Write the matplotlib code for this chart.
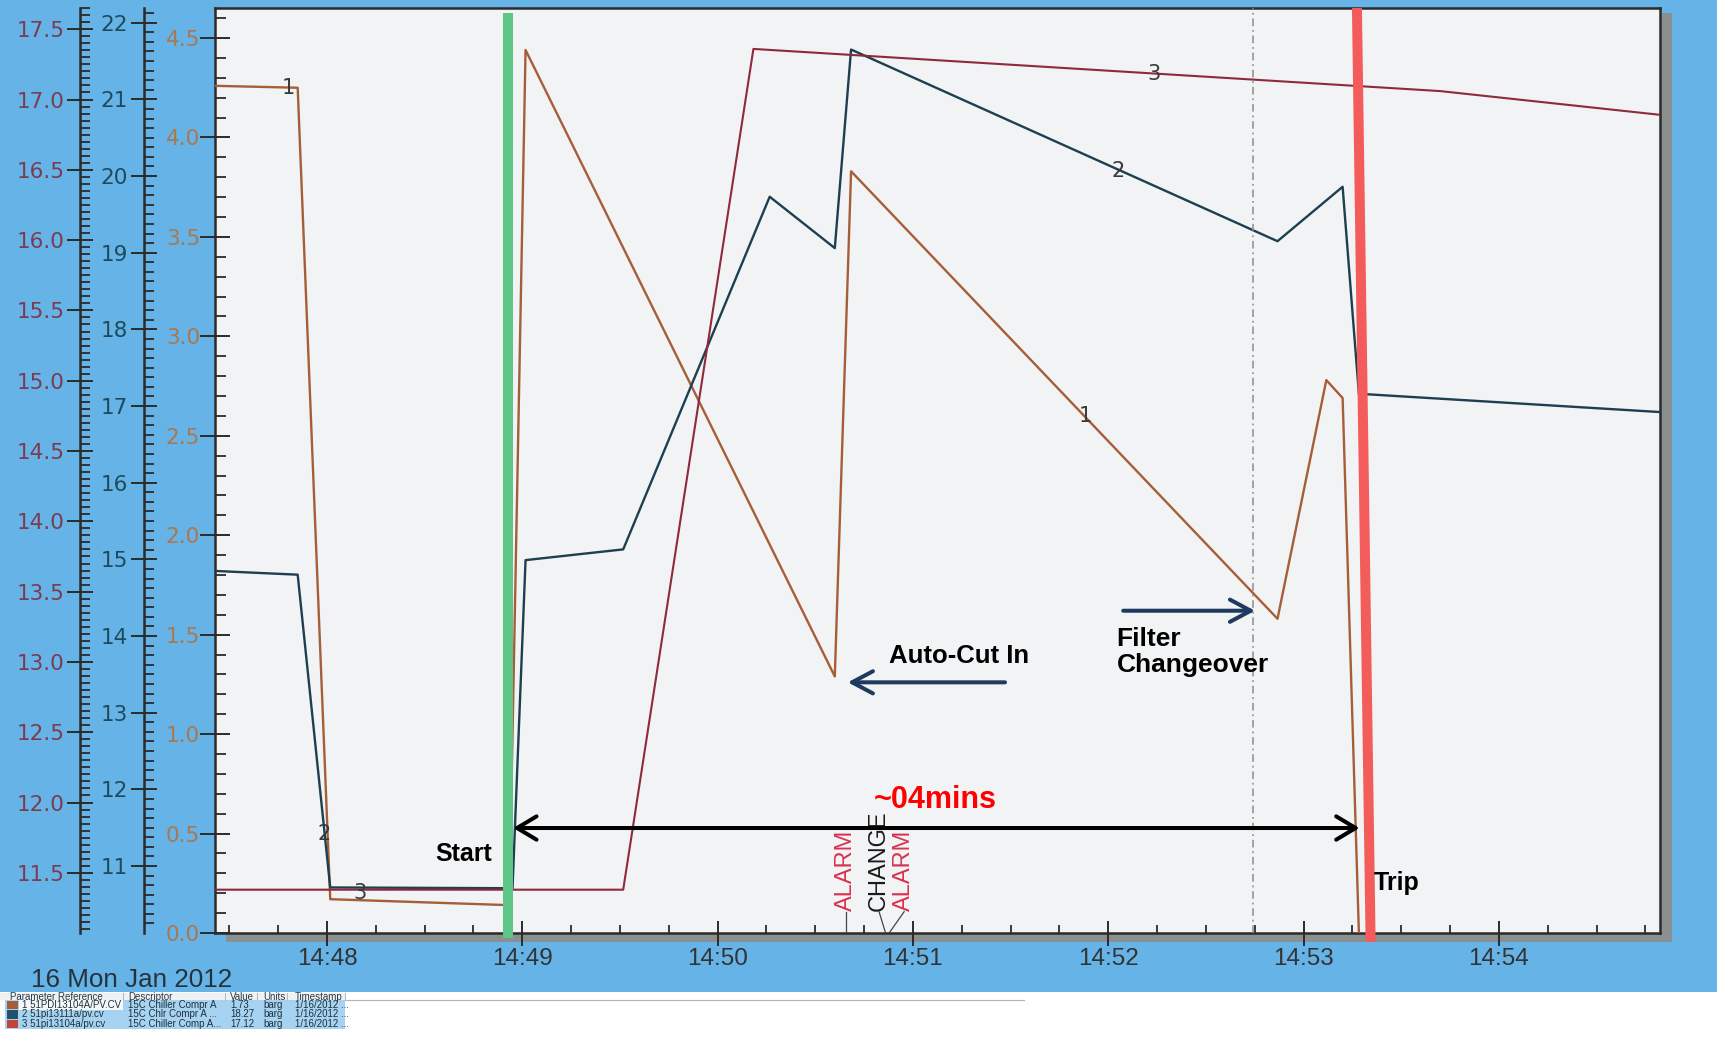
import matplotlib
matplotlib.use('Agg')
import matplotlib.pyplot as plt
import matplotlib.dates as mdates
import matplotlib.patches as mpatches
from matplotlib.ticker import MultipleLocator, FormatStrFormatter
import pandas as pd

DAY = '2012-01-16 '

# ---- data ----
# 1: 51PDI13104A/PV.CV  (0 - 4.5 barg axis)
s1_time = ['14:47:25', '14:47:51', '14:48:01', '14:48:56', '14:49:01', '14:50:36',
           '14:50:41', '14:52:52', '14:53:07', '14:53:12', '14:53:17']
s1_val = [4.26, 4.25, 0.17, 0.14, 4.44, 1.29, 3.83, 1.58, 2.78, 2.69, 0.0]

# 2: 51pi13111a/pv.cv  (11 - 22 barg axis)
s2_time = ['14:47:25', '14:47:51', '14:48:01', '14:48:57', '14:49:01', '14:49:31',
           '14:50:16', '14:50:36', '14:50:41', '14:52:52', '14:53:12', '14:53:17', '14:54:50']
s2_val = [14.85, 14.80, 10.72, 10.71, 14.99, 15.13, 19.73, 19.06, 21.65, 19.15, 19.86, 17.16, 16.92]

# 3: 51pi13104a/pv.cv  (11.5 - 17.5 barg axis)
s3_time = ['14:47:25', '14:49:31', '14:50:11', '14:53:42', '14:54:50']
s3_val = [11.38, 11.38, 17.36, 17.06, 16.89]

x_range = ['14:47:25.6', '14:54:49.5']
start_time = '14:48:55.5'
trip_time = ['14:53:16.4', '14:53:20.6']     # slanted marker top / bottom
filter_time = '14:52:44.4'
span_time = ['14:48:57.2', '14:53:17.2']
span_label = '~04mins'

# series number labels: (text, time, value, axis index)
num_labels = [('1', '14:47:48', 4.25, 1), ('2', '14:47:59', 11.42, 2), ('3', '14:48:10', 11.36, 3),
              ('3', '14:52:14', 17.18, 3), ('2', '14:52:03', 20.07, 2), ('1', '14:51:53', 2.60, 1)]

# events on the time axis: (text, text time, event time, colour)
events = [('ALARM', '14:50:39.3', '14:50:39.3', '#d8324f'),
          ('CHANGE', '14:50:49.6', '14:50:51.6', '#1a1a1a'),
          ('ALARM', '14:50:57.3', '14:50:52.7', '#d8324f')]

table_header = ['Parameter Reference', 'Descriptor', 'Value', 'Units', 'Timestamp']
table_rows = [['1 51PDI13104A/PV.CV', '15C Chiller Compr A', '1.73', 'barg', '1/16/2012 ...'],
              ['2 51pi13111a/pv.cv', '15C Chlr Compr A ...', '18.27', 'barg', '1/16/2012 ...'],
              ['3 51pi13104a/pv.cv', '15C Chiller Comp A...', '17.12', 'barg', '1/16/2012 ...']]
date_label = '16 Mon Jan 2012'

C1, C2, C3 = '#a65e38', '#1d3f4f', '#8e2a3c'
L1, L2, L3 = '#a97850', '#1f4a5c', '#7b3c50'
DARK = '#2b2b2b'

def T(s):
    return mdates.date2num(pd.Timestamp(DAY + s))

def TT(lst):
    return pd.to_datetime([DAY + s for s in lst])

W, H = 1717, 1039
fig = plt.figure(figsize=(W / 100, H / 100), dpi=100)
fig.patch.set_facecolor('white')

def fx(px):
    return px / W

def fy(py):
    return 1 - py / H

# blue background and plot shadow
fig.add_artist(mpatches.Rectangle((0, fy(992)), 1, 1 - fy(992), transform=fig.transFigure,
                                  facecolor='#66b3e7', edgecolor='none', zorder=-10))
fig.add_artist(mpatches.Rectangle((fx(1660), fy(942)), fx(12), (942 - 13) / H, transform=fig.transFigure,
                                  facecolor='#8a8f8f', edgecolor='none', zorder=-5))
fig.add_artist(mpatches.Rectangle((fx(226), fy(942)), fx(1672 - 226), 9 / H, transform=fig.transFigure,
                                  facecolor='#8a8f8f', edgecolor='none', zorder=-5))

ax = fig.add_axes([fx(215), fy(933), fx(1660 - 215), (933 - 8) / H])
ax.set_facecolor('#f1f3f5')
ax2 = ax.twinx()
ax3 = ax.twinx()

for a, pos in ((ax2, -71 / 1445), (ax3, -135 / 1445)):
    for s in ('right', 'top', 'bottom'):
        a.spines[s].set_visible(False)
    a.spines['left'].set_visible(True)
    a.spines['left'].set_position(('axes', pos))
    a.spines['left'].set_linewidth(1.8)
    a.spines['left'].set_color(DARK)
    a.yaxis.set_ticks_position('left')
    a.yaxis.set_label_position('left')
    a.patch.set_visible(False)

for s in ax.spines.values():
    s.set_linewidth(1.8)
    s.set_color(DARK)

# series
ax.plot(TT(s1_time), s1_val, color=C1, lw=1.7, zorder=3)
ax2.plot(TT(s2_time), s2_val, color=C2, lw=1.7, zorder=3)
ax3.plot(TT(s3_time), s3_val, color=C3, lw=1.5, zorder=3)

ax.set_xlim(T(x_range[0]), T(x_range[1]))
ax.xaxis.set_major_locator(mdates.MinuteLocator())
ax.xaxis.set_major_formatter(mdates.DateFormatter('%H:%M'))
ax.xaxis.set_minor_locator(mdates.SecondLocator(bysecond=[0, 15, 30, 45]))

ax.set_ylim(0, 4.651)
ax.yaxis.set_major_locator(MultipleLocator(0.5))
ax.yaxis.set_minor_locator(MultipleLocator(0.1))
ax.yaxis.set_major_formatter(FormatStrFormatter('%.1f'))

ax2.set_ylim(10.126, 22.192)
ax2.yaxis.set_major_locator(MultipleLocator(1))
ax2.yaxis.set_minor_locator(MultipleLocator(0.125))
ax2.yaxis.set_major_formatter(FormatStrFormatter('%d'))

ax3.set_ylim(11.072, 17.651)
ax3.yaxis.set_major_locator(MultipleLocator(0.5))
ax3.yaxis.set_minor_locator(MultipleLocator(0.05))
ax3.yaxis.set_major_formatter(FormatStrFormatter('%.1f'))

ax.tick_params(axis='x', which='major', direction='inout', length=18, width=1.4, color=DARK,
               labelsize=17.5, pad=1.8, labelcolor='#333333', labelfontfamily='Liberation Sans')
ax.tick_params(axis='x', which='minor', direction='in', length=5.8, width=1.3, color=DARK)
ax.tick_params(axis='y', which='major', direction='inout', length=20.9, width=1.4, color=DARK,
               labelsize=15.5, pad=0.3, labelcolor=L1)
ax.tick_params(axis='y', which='minor', direction='in', length=8, width=1.3, color=DARK)
ax2.tick_params(axis='y', which='major', direction='inout', length=19.2, width=1.4, color=DARK,
                labelsize=15.5, pad=2.0, labelcolor=L2)
ax2.tick_params(axis='y', which='minor', direction='in', length=7.5, width=1.3, color=DARK)
ax3.tick_params(axis='y', which='major', direction='inout', length=19.4, width=1.4, color=DARK,
                labelsize=15.5, pad=1.5, labelcolor=L3)
ax3.tick_params(axis='y', which='minor', direction='in', length=7, width=1.3, color=DARK)

# series number labels
axes_by_idx = {1: ax, 2: ax2, 3: ax3}
for txt, t, v, idx in num_labels:
    axes_by_idx[idx].text(T(t), v, txt, fontsize=15, color='#3a3a3a', ha='center', va='center', zorder=5)

xt = ax3.get_xaxis_transform()

# filter changeover dotted marker
ax3.plot([T(filter_time)] * 2, [0, 1], transform=xt, color='#8c8c8c', lw=1.1,
         ls=(0, (5, 2.5, 1.2, 2.5)), zorder=2)
# start / trip markers
ax3.plot([T(start_time)] * 2, [0.9943, -0.0055], transform=xt, color='#5dc687', lw=7.2,
         solid_capstyle='butt', clip_on=False, zorder=10)
ax3.plot([T(trip_time[0]), T(trip_time[1])], [1.0, -0.0097], transform=xt, color='#f45c5c', lw=7.2,
         solid_capstyle='butt', clip_on=False, zorder=10)

# span arrow
ax3.add_patch(mpatches.FancyArrowPatch((T(span_time[0]), 0.1135), (T(span_time[1]), 0.1135), transform=xt,
                                       arrowstyle=mpatches.ArrowStyle('<->', head_length=0.7, head_width=0.42),
                                       mutation_scale=20, lw=2.9, color='black', zorder=11,
                                       shrinkA=0, shrinkB=0))
ax3.text(0.4983, 0.1438, span_label, transform=ax3.transAxes, ha='center', va='center',
         fontsize=22, fontweight='bold', color='#ff0000', family='Liberation Sans', zorder=11)

# auto-cut in arrow + filter changeover arrow
NAVY = '#1e3a5f'
ax3.add_patch(mpatches.FancyArrowPatch((T('14:51:28.3'), 0.271), (T('14:50:40'), 0.271), transform=xt,
                                       arrowstyle=mpatches.ArrowStyle('->', head_length=0.75, head_width=0.4),
                                       mutation_scale=20, lw=2.9, color=NAVY, zorder=11, shrinkA=0, shrinkB=0))
ax3.add_patch(mpatches.FancyArrowPatch((T('14:52:04.6'), 0.3484), (T('14:52:45.1'), 0.3484), transform=xt,
                                       arrowstyle=mpatches.ArrowStyle('->', head_length=0.75, head_width=0.4),
                                       mutation_scale=20, lw=2.9, color=NAVY, zorder=11, shrinkA=0, shrinkB=0))

bold = dict(fontweight='bold', color='black', family='Liberation Sans', zorder=11)
ax3.text(0.1723, 0.0854, 'Start', transform=ax3.transAxes, ha='center', va='center', fontsize=18, **bold)
ax3.text(0.8021, 0.054, 'Trip', transform=ax3.transAxes, ha='left', va='center', fontsize=18, **bold)
ax3.text(0.5149, 0.2995, 'Auto-Cut In', transform=ax3.transAxes, ha='center', va='center', fontsize=18.5, **bold)
ax3.text(0.624, 0.3308, 'Filter\nChangeover', transform=ax3.transAxes, ha='left', va='top',
         fontsize=19, linespacing=1.1, **bold)

# events along the time axis
for txt, tt, te, col in events:
    ax3.text(T(tt), 0.024, txt, transform=xt, rotation=90, ha='center', va='bottom', fontsize=17,
             color=col, family=['Liberation Sans Narrow', 'Liberation Sans'], zorder=6)
    ax3.plot([T(tt), T(te)], [0.023, 0.0], transform=xt, color='#444444', lw=0.9, zorder=6)

# date label
fig.text(fx(31), fy(980), date_label, ha='left', va='center', fontsize=18.7, color='#26323a',
         family='Liberation Sans')

# parameter table
col_x = [21.7, 128, 230, 263, 295]
col_sep = [123, 225, 257, 287, 345]
fig.add_artist(mpatches.Rectangle((0, fy(1000)), fx(345), 7 / H, transform=fig.transFigure,
                                  facecolor='#eef2f5', edgecolor='none'))
fig.add_artist(plt.Line2D([fx(345), fx(1024)], [fy(1000), fy(1000)], transform=fig.transFigure,
                          color='#b5b5b5', lw=0.8))
hx = [10, 128, 230, 263, 295]
for x, h in zip(hx, table_header):
    fig.text(fx(x), fy(996.5), h, ha='left', va='center', fontsize=7, color='#2a3a44', family='Liberation Sans')
for x in col_sep:
    fig.add_artist(plt.Line2D([fx(x), fx(x)], [fy(993), fy(1000)], transform=fig.transFigure,
                              color='#b5b5b5', lw=0.7))
row_y = [1000, 1009.5, 1019, 1028.5]
sq_cols = [C1, '#24506e', '#c0463c']
for i, row in enumerate(table_rows):
    y0, y1 = row_y[i], row_y[i + 1]
    fig.add_artist(mpatches.Rectangle((fx(5), fy(y1)), fx(340), (y1 - y0) / H, transform=fig.transFigure,
                                      facecolor='#a6d3f1', edgecolor='none'))
    if i == 0:
        fig.add_artist(mpatches.Rectangle((fx(19), fy(y1)), fx(104), (y1 - y0) / H, transform=fig.transFigure,
                                          facecolor='#f4f8fb', edgecolor='none'))
    fig.add_artist(mpatches.Rectangle((fx(6.7), fy(y1) + 0.5 / H), fx(11.6), (y1 - y0 - 1) / H,
                                      transform=fig.transFigure, facecolor=sq_cols[i], edgecolor='none'))
    for x, cell in zip(col_x, row):
        fig.text(fx(x), fy((y0 + y1) / 2), cell, ha='left', va='center', fontsize=7, color='#20303a',
                 family='Liberation Sans')

fig.savefig('out.png', dpi=100, facecolor=fig.get_facecolor())
